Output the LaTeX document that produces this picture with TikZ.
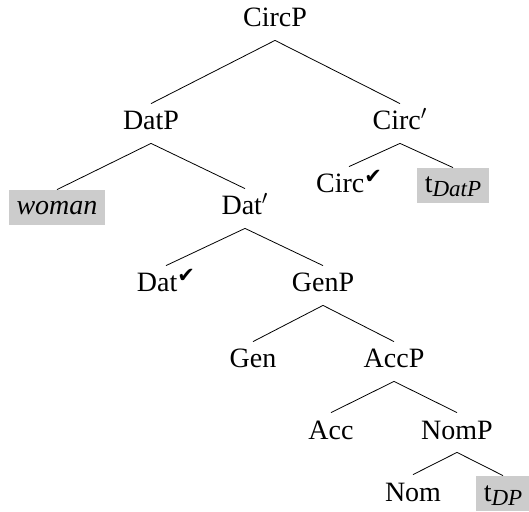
\documentclass[tikz,border=0pt]{standalone}
\usepackage{fontspec}
\setmainfont{Liberation Serif}
\newfontfamily\symfont{DejaVu Sans}
\newcommand{\chk}{\raisebox{4.5pt}{\fontsize{10.5}{10.5}\symfont ✔}}
\newcommand{\trsub}[1]{\raisebox{-2pt}{\fontsize{11.5}{11.5}\selectfont\itshape #1}}
\tikzset{
  cat/.style={font=\fontsize{14}{16}\selectfont, inner sep=0pt,
    text height=13pt, text depth=6.5pt, anchor=base},
  trace/.style={cat, fill=gray!40, text height=12.5pt, text depth=5pt,
    inner xsep=4pt}
}
\begin{document}
\begin{tikzpicture}[x=0.5pt,y=-0.5pt]
      \useasboundingbox (0,0) rectangle (529,512);
      \draw
        (275,27) node[cat] (circp){CircP}
        (151,130) node[cat] (datp){DatP}
        (400,130) node[cat] (circbar){Circ$'$}
        (57,215) node[trace] (woman){\itshape woman}
        (245,215) node[cat] (datbar){Dat$'$}
        (349,193) node[cat] (circ){Circ\chk}
        (453,193) node[trace] (tdatp){t\trsub{DatP}}
        (166,292) node[cat] (dat){Dat\chk}
        (323,292) node[cat] (genp){GenP}
        (253,368) node[cat] (gen){Gen}
        (394,368) node[cat] (accp){AccP}
        (331,439) node[cat] (acc){Acc}
        (457,439) node[cat] (nomp){NomP}
        (413,501) node[cat] (nom){Nom}
        (503,501) node[trace] (tdp){t\trsub{DP}};
      \begin{scope}[-]
        \draw (circp.south) to (datp.north);
        \draw (circp.south) to (circbar.north);
        \draw (datp.south) to (woman.north);
        \draw (datp.south) to (datbar.north);
        \draw (circbar.south) to (circ.north);
        \draw (circbar.south) to (tdatp.north);
        \draw (datbar.south) to (dat.north);
        \draw (datbar.south) to (genp.north);
        \draw (genp.south) to (gen.north);
        \draw (genp.south) to (accp.north);
        \draw (accp.south) to (acc.north);
        \draw (accp.south) to (nomp.north);
        \draw (nomp.south) to (nom.north);
        \draw (nomp.south) to (tdp.north);
      \end{scope}
    \end{tikzpicture}
\end{document}
